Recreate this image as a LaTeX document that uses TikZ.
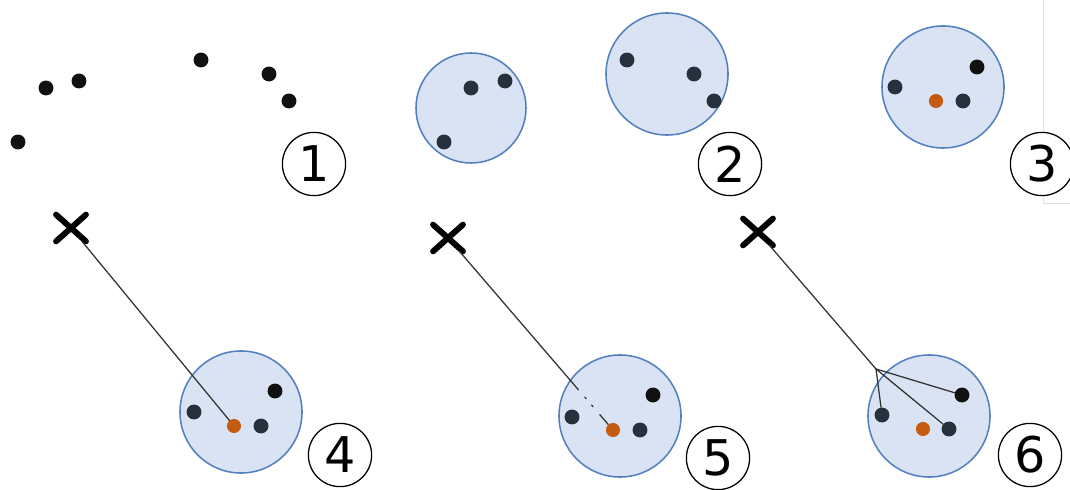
\documentclass[tikz,border=0pt]{standalone}
\usepackage{fontspec}
\newfontfamily\numfont{DejaVu Sans}
\usetikzlibrary{shapes.misc,calc}
\definecolor{clfill}{HTML}{DAE3F3}
\definecolor{cldraw}{HTML}{5580C0}
\definecolor{ptdark}{HTML}{27303C}
\definecolor{ptblack}{HTML}{111111}
\definecolor{ptorange}{HTML}{C55A11}
\tikzset{
	pt/.style={circle,fill=ptdark,inner sep=0pt,minimum size=10.6pt},
	ptb/.style={pt,fill=ptblack},
	pto/.style={pt,fill=ptorange,minimum size=10pt},
	cluster/.style={circle,draw=cldraw,fill=clfill,line width=1.1pt,inner sep=0pt,minimum size=3.05cm},
	query/.style={cross out,draw=black,line width=4.2pt,inner sep=0pt,minimum width=0.6cm,minimum height=0.52cm},
	stepnum/.style={circle,draw=black,fill=white,line width=0.9pt,inner sep=0pt,minimum size=1.58cm,font=\numfont\fontsize{35}{35}\selectfont},
	link/.style={draw=black!80,line width=0.9pt}
}

\begin{document}
\begin{tikzpicture}[line cap=round,line join=round,x=0.025cm,y=-0.025cm]
		\useasboundingbox (0,0) rectangle (1070,490);
		\clip (0,0) rectangle (1070,490);
		\draw[black!12,line width=0.5pt] (1043,0) -- (1043,203) -- (1070,203);
		% 1
		\node[ptb] (p1a) at (18,142) {};
		\node[ptb] (p1b) at (46,88) {};
		\node[ptb] (p1c) at (79,81) {};
		\node[ptb] (p1d) at (201,60) {};
		\node[ptb] (p1e) at (269,74) {};
		\node[ptb] (p1f) at (289,101) {};
		\node[stepnum] (n1) at (314,164) {1};
		% 2
		\node[cluster,minimum size=2.75cm] (c2a) at (471,108) {};
		\node[pt] (p2a) at (471,88) {};
		\node[pt] (p2b) at (505,81) {};
		\node[pt] (p2c) at (444,142) {};
		\node[cluster] (c2b) at (667,74) {};
		\node[pt] (p2d) at (627,60) {};
		\node[pt] (p2e) at (694,74) {};
		\node[pt] (p2f) at (714,101) {};
		\node[stepnum] (n2) at (730,164) {2};
		% 3
		\node[cluster] (c3) at (943,87) {};
		\node[pt] (p3a) at (895,87) {};
		\node[ptb] (p3b) at (977,67) {};
		\node[pt] (p3c) at (963,101) {};
		\node[pto] (o3) at (936,101) {};
		\node[stepnum] (n3) at (1042,164) {3};
		% 4
		\node[cluster] (c4) at (241,412) {};
		\node[pt] (p4a) at (194,412) {};
		\node[ptb] (p4b) at (275,391) {};
		\node[pt] (p4c) at (261,426) {};
		\node[pto] (o4) at (234,426) {};
		\node[query] (x4) at (71,228) {};
		\draw[link] (x4) -- (o4);
		\node[stepnum] (n4) at (340,455) {4};
		% 5
		\node[cluster] (c5) at (620,416) {};
		\node[pt] (p5a) at (572,417) {};
		\node[ptb] (p5b) at (653,395) {};
		\node[pt] (p5c) at (640,430) {};
		\node[pto] (o5) at (613,430) {};
		\node[query] (x5) at (448,238) {};
		\coordinate (g5a) at ($(x5)!0.79!(o5)$);
		\coordinate (g5b) at ($(x5)!0.92!(o5)$);
		\draw[link] (x5) -- (g5a);
		\draw[link,dash pattern=on 0pt off 7pt on 1.5pt off 6pt on 1.5pt off 12pt] (g5a) -- (g5b);
		\draw[link] (g5b) -- (o5);
		\node[stepnum] (n5) at (718,458) {5};
		% 6
		\node[cluster] (c6) at (929,416) {};
		\node[pt] (p6a) at (882,415) {};
		\node[ptb] (p6b) at (962,395) {};
		\node[pt] (p6c) at (949,429) {};
		\node[pto] (o6) at (923,429) {};
		\node[query] (x6) at (758,232) {};
		\coordinate (b6) at (876,369);
		\draw[link] (x6) -- (b6);
		\draw[link] (b6) -- (p6a);
		\draw[link] (b6) -- (p6b);
		\draw[link] (b6) -- (p6c);
		\node[stepnum] (n6) at (1030,455) {6};
\end{tikzpicture}
\end{document}
